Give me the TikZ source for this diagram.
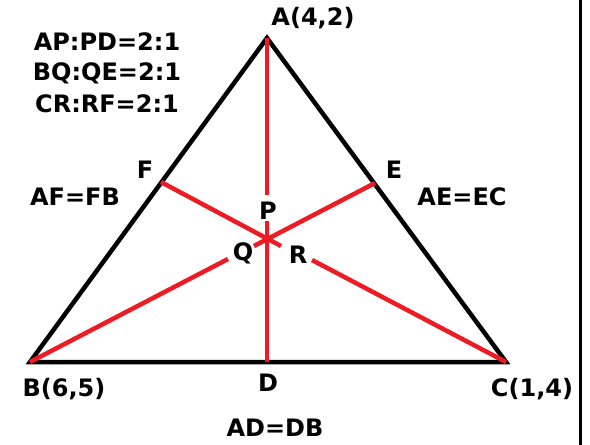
\documentclass[tikz,border=0pt]{standalone}
\usepackage{fontspec}
\setmainfont{DejaVu Sans}
\usepackage{xcolor}
\usepackage{tikz}
\usetikzlibrary{calc}
\definecolor{paintred}{RGB}{237,28,36}
\tikzset{
  side/.style={draw=black, line width=4.5pt, line join=miter},
  median/.style={draw=paintred, line width=4.5pt},
  lbl/.style={inner sep=0pt, font=\fontsize{24}{24}\selectfont\bfseries, text=black},
}

\begin{document}
\begin{tikzpicture}[x=1pt, y=-1pt]
  \useasboundingbox (0,0) rectangle (590,445);
  % vertices and midpoints
  \coordinate (A) at (267,38);
  \coordinate (B) at (30,362);
  \coordinate (C) at (506,362);
  \coordinate (D) at (267,362);
  \coordinate (F) at (161,182);
  \coordinate (E) at (375,183);
  \coordinate (G) at (267,239);
  % ends of the broken medians
  \coordinate (ptop) at (267,195);
  \coordinate (pbot) at (267,221);
  \coordinate (fend) at (281,246);
  \coordinate (eend) at (254,246);
  \coordinate (qend) at (228,259);
  \coordinate (rend) at (312,260);

  \draw[side] (A) -- (B) -- (C) -- cycle;
  \draw[median] (A) -- (ptop);
  \draw[median] (pbot) -- (D);
  \draw[median] (F) -- (fend);
  \draw[median] (E) -- (eend);
  \draw[median] (B) -- (qend);
  \draw[median] (C) -- (rend);

  % right border
  \coordinate (rtop) at (580,0);
  \coordinate (rbot) at (580,445);
  \draw[draw=black, line width=3pt] (rtop) -- (rbot);

  \node (lA) [lbl] at (313,18) {A(4,2)};
  \node (lB) [lbl] at (64,389) {B(6,5)};
  \node (lC) [lbl] at (532,389) {C(1,4)};
  \node (lD) [lbl] at (268,383) {D};
  \node (lE) [lbl] at (394,170) {E};
  \node (lF) [lbl] at (145,170) {F};
  \node (lP) [lbl] at (268,211) {P};
  \node (lQ) [lbl] at (243,253) {Q};
  \node (lR) [lbl] at (298,255) {R};
  \node (rap) [lbl] at (107,42) {AP:PD=2:1};
  \node (rbq) [lbl] at (107,73) {BQ:QE=2:1};
  \node (rcr) [lbl] at (107,104) {CR:RF=2:1};
  \node (eqf) [lbl] at (75,197) {AF=FB};
  \node (eqe) [lbl] at (462,197) {AE=EC};
  \node (eqd) [lbl] at (275,428) {AD=DB};
\end{tikzpicture}
\end{document}
